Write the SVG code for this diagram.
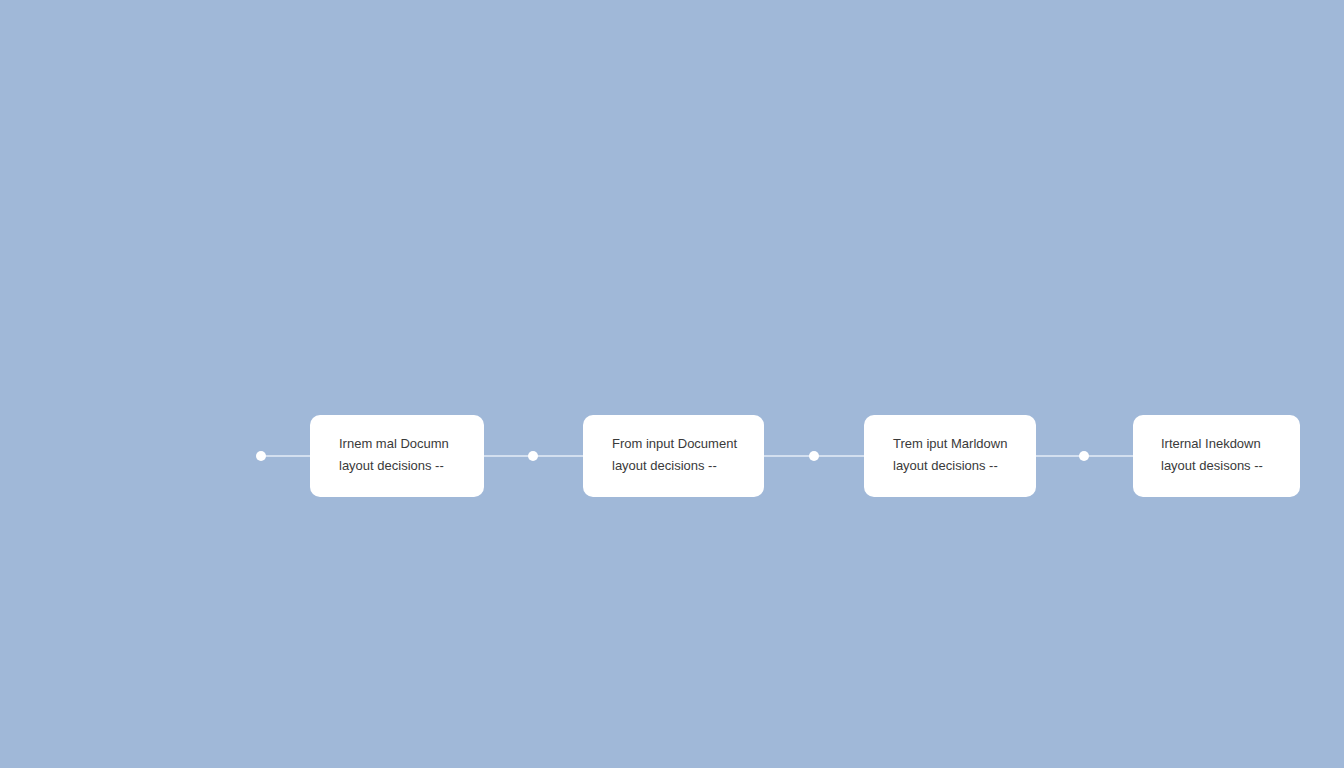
<svg xmlns="http://www.w3.org/2000/svg" width="1344" height="768" viewBox="0 0 1344 768">
<style>
.node rect{fill:#ffffff;}
.lbl{font-family:"Liberation Sans",Arial,sans-serif;font-size:13px;fill:#3a3a3a;}
.conn line{stroke:#e4edf7;stroke-width:1.5;}
.conn circle{fill:#ffffff;}
</style>
<rect width="1344" height="768" fill="#a0b8d8"/>
<g id="connectors" class="conn">
<line x1="261" y1="456" x2="310" y2="456"/>
<line x1="484" y1="456" x2="583" y2="456"/>
<line x1="764" y1="456" x2="864" y2="456"/>
<line x1="1036" y1="456" x2="1133" y2="456"/>
<circle cx="261" cy="456" r="5"/>
<circle cx="533" cy="456" r="5"/>
<circle cx="814" cy="456" r="5"/>
<circle cx="1084" cy="456" r="5"/>
</g>
<g id="node1" class="node">
<rect x="310" y="415" width="174" height="82" rx="10"/>
<text class="lbl" x="339" y="448">Irnem mal Documn</text>
<text class="lbl" x="339" y="470">layout decisions --</text>
</g>
<g id="node2" class="node">
<rect x="583" y="415" width="181" height="82" rx="10"/>
<text class="lbl" x="612" y="448">From input Document</text>
<text class="lbl" x="612" y="470">layout decisions --</text>
</g>
<g id="node3" class="node">
<rect x="864" y="415" width="172" height="82" rx="10"/>
<text class="lbl" x="893" y="448">Trem iput Marldown</text>
<text class="lbl" x="893" y="470">layout decisions --</text>
</g>
<g id="node4" class="node">
<rect x="1133" y="415" width="167" height="82" rx="10"/>
<text class="lbl" x="1161" y="448">Irternal Inekdown</text>
<text class="lbl" x="1161" y="470">layout desisons --</text>
</g>
</svg>
